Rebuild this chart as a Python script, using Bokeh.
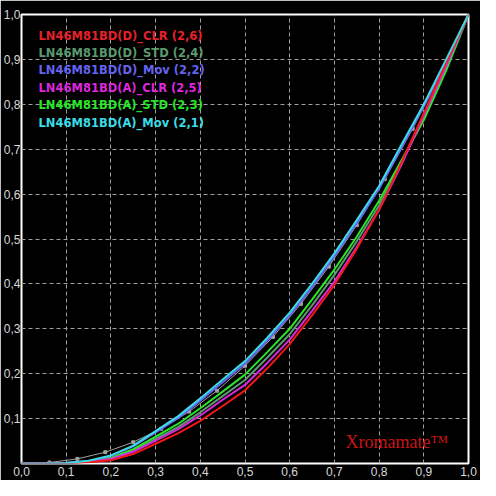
from bokeh.plotting import figure
from bokeh.models import FixedTicker, CustomJSTickFormatter, Label, Range1d
from bokeh.embed import file_html
from bokeh.resources import INLINE

# ---- data ----
x_pts = [0, 0.05, 0.1, 0.15, 0.2, 0.25, 0.3, 0.35, 0.4, 0.45, 0.5,
         0.55, 0.6, 0.65, 0.7, 0.75, 0.8, 0.85, 0.9, 0.95, 1.0]

d_clr = [0, 0, 0.001, 0.003, 0.007, 0.021, 0.044, 0.067, 0.095, 0.128, 0.163,
         0.212, 0.266, 0.330, 0.398, 0.478, 0.565, 0.670, 0.780, 0.893, 1.0]
d_std = [0, 0, 0.001, 0.004, 0.011, 0.029, 0.055, 0.081, 0.114, 0.150, 0.186,
         0.236, 0.288, 0.352, 0.420, 0.495, 0.575, 0.670, 0.770, 0.880, 1.0]
d_mov = [0, 0, 0.001, 0.005, 0.017, 0.038, 0.069, 0.101, 0.140, 0.181, 0.222,
         0.274, 0.330, 0.393, 0.462, 0.535, 0.612, 0.703, 0.795, 0.895, 1.0]
a_clr = [0, 0, 0.001, 0.004, 0.010, 0.026, 0.051, 0.076, 0.107, 0.142, 0.175,
         0.224, 0.276, 0.340, 0.405, 0.482, 0.565, 0.665, 0.775, 0.885, 1.0]
a_std = [0, 0, 0.001, 0.004, 0.013, 0.032, 0.060, 0.088, 0.123, 0.160, 0.198,
         0.248, 0.300, 0.365, 0.432, 0.505, 0.585, 0.675, 0.765, 0.875, 1.0]
a_mov = [0, 0, 0.001, 0.006, 0.018, 0.040, 0.072, 0.105, 0.145, 0.187, 0.228,
         0.280, 0.336, 0.400, 0.468, 0.542, 0.618, 0.710, 0.800, 0.900, 1.0]

ref_x = [0, 0.0625, 0.125, 0.1875, 0.25, 0.3125, 0.375, 0.4375, 0.5,
         0.5625, 0.625, 0.6875, 0.75, 0.8125, 0.875, 0.9375, 1.0]
ref_y = [0, 0.0022, 0.0103, 0.0252, 0.0474, 0.0774, 0.1156, 0.1622, 0.2176,
         0.282, 0.3556, 0.4385, 0.531, 0.6333, 0.7454, 0.8676, 1.0]

series_names = ["LN46M81BD(D)_CLR (2,6)", "LN46M81BD(D)_STD (2,4)",
                "LN46M81BD(D)_Mov (2,2)", "LN46M81BD(A)_CLR (2,5)",
                "LN46M81BD(A)_STD (2,3)", "LN46M81BD(A)_Mov (2,1)"]
series_colors = ["#f01818", "#5a9a6e", "#6464f0", "#dc28dc", "#28e628", "#3cdce6"]
label_colors = ["#e8202a", "#5a9a6e", "#6464f0", "#dc28dc", "#28e628", "#3cdce6"]
series_values = [d_clr, d_std, d_mov, a_clr, a_std, a_mov]

x_ticks = [0.0, 0.1, 0.2, 0.3, 0.4, 0.5, 0.6, 0.7, 0.8, 0.9, 1.0]
y_ticks = [0.1, 0.2, 0.3, 0.4, 0.5, 0.6, 0.7, 0.8, 0.9, 1.0]
grid_ticks = [0.1, 0.2, 0.3, 0.4, 0.5, 0.6, 0.7, 0.8, 0.9]

# ---- figure ----
p = figure(width=480, height=480, x_range=Range1d(0, 1), y_range=Range1d(0, 1),
           output_backend="svg", toolbar_location=None,
           background_fill_color="black", border_fill_color="black",
           min_border_left=15, min_border_right=12, min_border_top=14,
           min_border_bottom=17)

fmt = CustomJSTickFormatter(code="return tick.toFixed(1).replace('.', ',');")
p.xaxis.ticker = FixedTicker(ticks=x_ticks)
p.yaxis.ticker = FixedTicker(ticks=y_ticks)
for ax in (p.xaxis[0], p.yaxis[0]):
    ax.formatter = fmt
    ax.axis_line_color = None
    ax.major_tick_line_color = None
    ax.minor_tick_line_color = None
    ax.major_tick_out = 0
    ax.major_tick_in = 0
    ax.minor_tick_out = 0
    ax.minor_tick_in = 0
    ax.major_label_text_color = "#d8d8d8"
    ax.major_label_text_font = "Liberation Sans"
    ax.major_label_text_font_size = "12px"
p.yaxis.major_label_standoff = 1
p.xaxis.major_label_standoff = 3

p.xgrid.ticker = FixedTicker(ticks=grid_ticks)
p.ygrid.ticker = FixedTicker(ticks=grid_ticks)
p.grid.grid_line_color = "#a0a0a0"
p.grid.grid_line_dash = "4 3"
p.grid.grid_line_width = 1

p.outline_line_color = "white"
p.outline_line_width = 2

# reference curve
p.line(ref_x, ref_y, line_color="#a0a0a0", line_width=1)
p.scatter(ref_x, ref_y, marker="square", size=3, fill_color="#a0a0a0",
          line_color="#a0a0a0")

draw_order = [1, 4, 2, 3, 0, 5]
for i in draw_order:
    p.line(x_pts, series_values[i], line_color=series_colors[i], line_width=2)

# legend texts
for i, name in enumerate(series_names):
    p.add_layout(Label(x=0.038, y=0.953 - i * 0.0388, text=name,
                       text_color=label_colors[i], text_font="DejaVu Sans",
                       text_font_style="bold", text_font_size="11.5px",
                       text_baseline="middle"))

p.add_layout(Label(x=0.725, y=0.047, text="Xromamate\u2122",
                   text_color="#c81414", text_font="Liberation Serif",
                   text_font_size="18px", text_baseline="middle"))

open("out.html", "w").write(file_html(p, INLINE))
